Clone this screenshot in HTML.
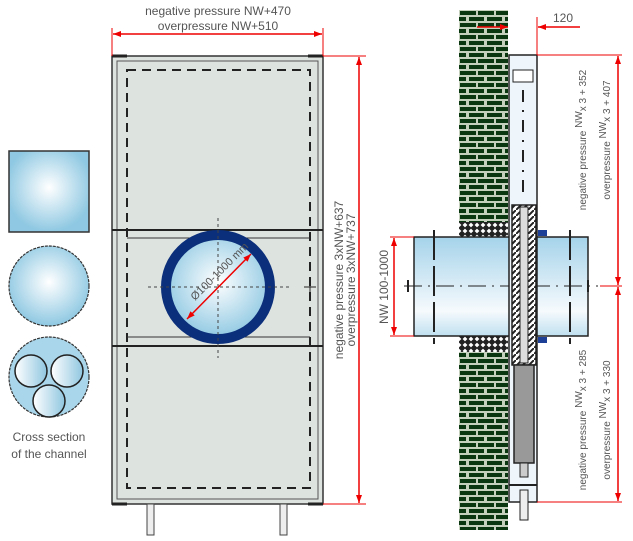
<!DOCTYPE html>
<html><head><meta charset="utf-8"><style>
html,body{margin:0;padding:0;background:#fff}
svg{display:block}
text{font-family:"Liberation Sans",sans-serif;fill:#555}
</style></head><body>
<svg width="633" height="541" viewBox="0 0 633 541" xmlns="http://www.w3.org/2000/svg">
<defs>
<radialGradient id="rg" cx="50%" cy="45%" r="55%"><stop offset="0" stop-color="#ffffff"/><stop offset="1" stop-color="#8ec8e2"/></radialGradient>
<linearGradient id="lg" x1="0" y1="0" x2="1" y2="0"><stop offset="0" stop-color="#ffffff"/><stop offset="1" stop-color="#8fc6e0"/></linearGradient>
<linearGradient id="duct" x1="0" y1="0" x2="0" y2="1"><stop offset="0" stop-color="#a5d3ea"/><stop offset="0.75" stop-color="#f6fafd"/><stop offset="1" stop-color="#bfe0f0"/></linearGradient>
<pattern id="brick" width="18" height="12" patternUnits="userSpaceOnUse" x="459" y="10">
<rect width="18" height="12" fill="#c4d0bb"/>
<rect x="1" y="1" width="16" height="4" fill="#0a3710"/>
<rect x="0" y="7" width="7" height="4" fill="#0a3710"/><rect x="10" y="7" width="8" height="4" fill="#0a3710"/>
</pattern>
<pattern id="hatch" width="6" height="6" patternUnits="userSpaceOnUse">
<rect width="6" height="6" fill="#222"/><path d="M3 0.6 L5.4 3 L3 5.4 L0.6 3Z" fill="#fff"/>
</pattern>
<pattern id="diag" width="6" height="6" patternUnits="userSpaceOnUse">
<rect width="6" height="6" fill="#fff"/><path d="M0 6 L6 0" stroke="#222" stroke-width="2"/>
</pattern>
<marker id="ar" markerWidth="8" markerHeight="6" refX="8" refY="3" orient="auto-start-reverse" markerUnits="userSpaceOnUse"><path d="M0 0 L8 3 L0 6Z" fill="#e00"/></marker>
</defs>

<!-- left cross sections -->
<rect x="9" y="151" width="80" height="81" fill="url(#rg)" stroke="#333" stroke-width="1.5"/>
<circle cx="49" cy="286" r="40" fill="url(#rg)" stroke="#333" stroke-width="1.2" stroke-dasharray="3 1"/>
<circle cx="49" cy="377" r="40" fill="#a9d6ea" stroke="#333" stroke-width="1.2" stroke-dasharray="3 1"/>
<circle cx="31" cy="371" r="16" fill="url(#lg)" stroke="#222" stroke-width="1.5"/>
<circle cx="67" cy="371" r="16" fill="url(#lg)" stroke="#222" stroke-width="1.5"/>
<circle cx="49" cy="401" r="16" fill="url(#lg)" stroke="#222" stroke-width="1.5"/>
<text x="49" y="441" font-size="12" text-anchor="middle" fill="#222">Cross section</text>
<text x="49" y="458" font-size="12" text-anchor="middle" fill="#222">of the channel</text>

<!-- front view -->
<rect x="112" y="56" width="211" height="448" fill="#dde3df" stroke="#333" stroke-width="1.5"/>
<rect x="117" y="61" width="201" height="438" fill="none" stroke="#555" stroke-width="1"/>
<rect x="127" y="70" width="183" height="418" fill="none" stroke="#222" stroke-width="2" stroke-dasharray="9 6"/>
<line x1="112" y1="230" x2="323" y2="230" stroke="#222" stroke-width="2"/>
<line x1="127" y1="238" x2="310" y2="238" stroke="#333" stroke-width="1"/>
<line x1="127" y1="337" x2="310" y2="337" stroke="#333" stroke-width="1"/>
<line x1="112" y1="346" x2="323" y2="346" stroke="#222" stroke-width="2"/>
<path d="M112 56 h15 M308 56 h15 M112 504 h15 M308 504 h15" stroke="#222" stroke-width="3"/>
<rect x="147" y="504" width="7" height="31" fill="#eee" stroke="#444"/>
<rect x="280" y="504" width="7" height="31" fill="#eee" stroke="#444"/>
<circle cx="218" cy="287" r="52" fill="url(#rg)" stroke="#0b2f7a" stroke-width="10"/>
<line x1="218" y1="218" x2="218" y2="358" stroke="#444" stroke-dasharray="3 3"/>
<line x1="148" y1="287" x2="290" y2="287" stroke="#444" stroke-dasharray="3 3"/>
<line x1="304" y1="287" x2="316" y2="287" stroke="#222"/><line x1="310" y1="281" x2="310" y2="293" stroke="#222"/>
<line x1="187" y1="319" x2="251" y2="254" stroke="#e00" stroke-width="1.5" marker-start="url(#ar)" marker-end="url(#ar)"/>
<text x="0" y="0" font-size="11" fill="#222" transform="translate(195,301) rotate(-45)">Ø100-1000 mm</text>

<!-- top dimension -->
<line x1="112" y1="28" x2="112" y2="56" stroke="#e00"/><line x1="323" y1="28" x2="323" y2="56" stroke="#e00"/>
<line x1="113" y1="34" x2="322" y2="34" stroke="#e00" stroke-width="1.5" marker-start="url(#ar)" marker-end="url(#ar)"/>
<text x="218" y="15" font-size="12" text-anchor="middle">negative pressure NW+470</text>
<text x="218" y="30" font-size="12" text-anchor="middle">overpressure NW+510</text>
<!-- right dimension -->
<line x1="323" y1="56" x2="366" y2="56" stroke="#e00"/><line x1="323" y1="504" x2="366" y2="504" stroke="#e00"/>
<line x1="359" y1="57" x2="359" y2="503" stroke="#e00" stroke-width="1.5" marker-start="url(#ar)" marker-end="url(#ar)"/>
<text font-size="12" text-anchor="middle" transform="translate(343,280) rotate(-90)">negative pressure 3xNW+637</text>
<text font-size="12" text-anchor="middle" transform="translate(355,280) rotate(-90)">overpressure 3xNW+737</text>

<!-- side view wall -->
<rect x="459" y="10" width="49" height="520" fill="url(#brick)"/>
<rect x="459" y="222" width="49" height="15" fill="url(#hatch)"/>
<rect x="459" y="336" width="49" height="16" fill="url(#hatch)"/>
<!-- duct -->
<rect x="414" y="237" width="174" height="99" fill="url(#duct)" stroke="#222" stroke-width="1.5"/>
<line x1="434" y1="230" x2="434" y2="344" stroke="#222" stroke-width="2" stroke-dasharray="30 6"/>
<line x1="570" y1="230" x2="570" y2="344" stroke="#222" stroke-width="2" stroke-dasharray="30 6"/>
<line x1="404" y1="286" x2="598" y2="286" stroke="#222" stroke-dasharray="18 6 2 6"/>
<line x1="408" y1="280" x2="408" y2="292" stroke="#222" stroke-width="2"/>
<line x1="588" y1="280" x2="588" y2="292" stroke="#222" stroke-width="2"/>
<!-- housing -->
<rect x="509" y="55" width="28" height="447" fill="#eef5fb" stroke="#222" stroke-width="1.5"/>
<rect x="513" y="70" width="20" height="12" fill="#fff" stroke="#222"/>
<line x1="523" y1="90" x2="523" y2="200" stroke="#222" stroke-width="2" stroke-dasharray="12 8 2 8"/>
<rect x="512" y="205" width="24" height="160" fill="url(#diag)" stroke="#222" stroke-width="1.5"/>
<rect x="520" y="207" width="8" height="156" fill="#ddd" stroke="#222"/>
<rect x="538" y="230" width="9" height="6" fill="#1d3f96"/>
<rect x="538" y="337" width="9" height="6" fill="#1d3f96"/>
<rect x="514" y="365" width="20" height="98" fill="#999" stroke="#222" stroke-width="1.5"/>
<rect x="520" y="463" width="8" height="14" fill="#ccc" stroke="#222"/>
<line x1="509" y1="485" x2="537" y2="485" stroke="#222" stroke-width="2"/>
<rect x="520" y="490" width="8" height="30" fill="#eee" stroke="#222"/>
<!-- dims side -->
<line x1="537" y1="17" x2="537" y2="55" stroke="#e00"/>
<line x1="477" y1="27" x2="508" y2="27" stroke="#e00" stroke-width="1.5" marker-end="url(#ar)"/>
<line x1="580" y1="27" x2="538" y2="27" stroke="#e00" stroke-width="1.5" marker-end="url(#ar)"/>
<text x="553" y="22" font-size="12">120</text>
<line x1="537" y1="55" x2="622" y2="55" stroke="#e00"/>
<line x1="600" y1="286" x2="622" y2="286" stroke="#e00"/>
<line x1="537" y1="502" x2="622" y2="502" stroke="#e00"/>
<line x1="618" y1="56" x2="618" y2="285" stroke="#e00" stroke-width="1.5" marker-start="url(#ar)" marker-end="url(#ar)"/>
<line x1="618" y1="287" x2="618" y2="501" stroke="#e00" stroke-width="1.5" marker-start="url(#ar)" marker-end="url(#ar)"/>
<line x1="390" y1="237" x2="414" y2="237" stroke="#e00"/><line x1="390" y1="336" x2="414" y2="336" stroke="#e00"/>
<line x1="394" y1="238" x2="394" y2="335" stroke="#e00" stroke-width="1.5" marker-start="url(#ar)" marker-end="url(#ar)"/>
<text font-size="12" text-anchor="middle" transform="translate(388,287) rotate(-90)">NW 100-1000</text>
<text font-size="10" text-anchor="middle" transform="translate(586,140) rotate(-90)">negative pressure <tspan dy="-4">NW</tspan><tspan dy="4">x 3 + 352</tspan></text>
<text font-size="10" text-anchor="middle" transform="translate(610,140) rotate(-90)">overpressure <tspan dy="-4">NW</tspan><tspan dy="4">x 3 + 407</tspan></text>
<text font-size="10" text-anchor="middle" transform="translate(586,420) rotate(-90)">negative pressure <tspan dy="-4">NW</tspan><tspan dy="4">x 3 + 285</tspan></text>
<text font-size="10" text-anchor="middle" transform="translate(610,420) rotate(-90)">overpressure <tspan dy="-4">NW</tspan><tspan dy="4">x 3 + 330</tspan></text>
</svg>
</body></html>
